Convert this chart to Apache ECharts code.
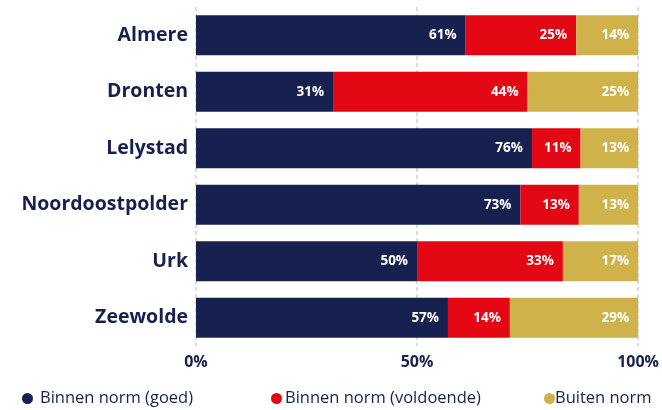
<!DOCTYPE html>
<html>
<head>
<meta charset="utf-8">
<script src="https://cdn.jsdelivr.net/npm/echarts@6/dist/echarts.min.js"></script>
<style>
  html, body { margin: 0; padding: 0; background: #fff; }
  #chart { width: 662px; height: 410px; }
</style>
</head>
<body>
<div id="chart"></div>
<script>
  // gemeenten, van boven naar beneden
  const gemeenten = ['Almere', 'Dronten', 'Lelystad', 'Noordoostpolder', 'Urk', 'Zeewolde'];
  const goed = [61, 31, 76, 73.4, 50, 57];
  const voldoende = [25, 44, 11, 13.2, 33, 14];
  const buiten = [14, 25, 13, 13.4, 17, 29];
  const reeksen = ['Binnen norm (goed)', 'Binnen norm (voldoende)', 'Buiten norm'];
  const xTicks = [0, 50, 100];

  const navy = '#162150';
  const kleuren = ['#162150', '#e30613', '#cfb24a'];

  const chart = echarts.init(document.getElementById('chart'));

  const label = {
    show: true,
    position: 'insideRight',
    color: '#fff',
    fontWeight: 'bold',
    fontSize: 13.5,
    fontFamily: 'Open Sans',
    distance: 9,
    formatter: p => Math.round(p.value) + '%'
  };

  const maakSerie = (naam, data, kleur) => ({
    name: naam,
    type: 'bar',
    stack: 'totaal',
    data: data,
    barWidth: 40,
    itemStyle: { color: kleur },
    label: label
  });

  // losse legenda's, zodat de afstanden kloppen
  const legendaPos = [[17, 2], [266, -2], [539, -5]];
  const legendas = reeksen.map((naam, i) => ({
    left: legendaPos[i][0],
    bottom: -2,
    icon: 'circle',
    itemWidth: 11,
    itemHeight: 11,
    textStyle: {
      color: navy, fontSize: 16.5, fontFamily: 'Open Sans',
      padding: [0, 0, 0, legendaPos[i][1]]
    },
    data: [naam]
  }));

  chart.setOption({
    animation: false,
    color: kleuren,
    grid: { left: 196, right: 21, top: 7, bottom: 64 },
    legend: legendas,
    xAxis: {
      type: 'value',
      min: 0,
      max: 100,
      interval: 50,
      axisLine: { show: false },
      axisTick: { show: false },
      splitLine: { show: true, lineStyle: { color: '#dcdcdc', type: [4, 3], width: 2 } },
      axisLabel: {
        color: navy,
        fontSize: 16,
        fontWeight: 'bold',
        fontFamily: 'Open Sans',
        margin: 8,
        formatter: v => xTicks.includes(v) ? v + '%' : ''
      }
    },
    yAxis: {
      type: 'category',
      inverse: true,
      data: gemeenten,
      axisLine: { show: false },
      axisTick: { show: false },
      axisLabel: {
        color: navy,
        fontSize: 19.5,
        fontWeight: 'bold',
        fontFamily: 'Open Sans',
        margin: 8
      }
    },
    series: [
      maakSerie(reeksen[0], goed, kleuren[0]),
      maakSerie(reeksen[1], voldoende, kleuren[1]),
      maakSerie(reeksen[2], buiten, kleuren[2])
    ]
  });
</script>
</body>
</html>
